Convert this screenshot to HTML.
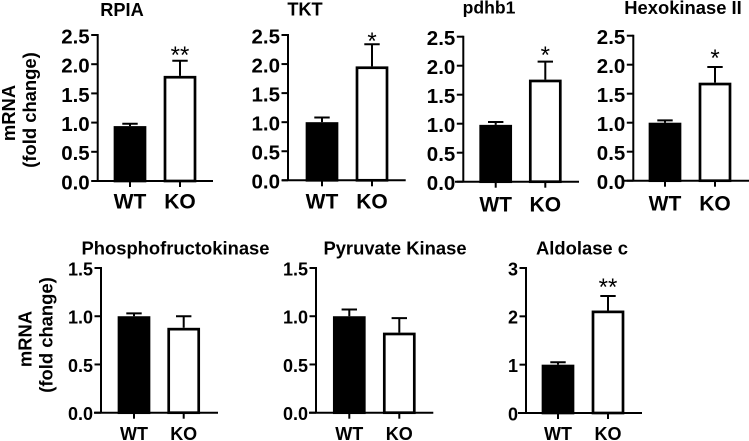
<!DOCTYPE html>
<html>
<head>
<meta charset="utf-8">
<style>
html,body{margin:0;padding:0;background:#fff;}
svg{display:block;}
text{font-family:"Liberation Sans",Arial,sans-serif;font-weight:bold;fill:#000;}
</style>
</head>
<body>
<svg id="figure" width="749" height="441" viewBox="0 0 749 441" xmlns="http://www.w3.org/2000/svg"></svg>
<script>
const categories = ['WT', 'KO'];
const panelTitles = ['RPIA', 'TKT', 'pdhb1', 'Hexokinase II', 'Phosphofructokinase', 'Pyruvate Kinase', 'Aldolase c'];
const tickLabelsA = ['0.0', '0.5', '1.0', '1.5', '2.0', '2.5'];
const tickLabelsB = ['0.0', '0.5', '1.0', '1.5'];
const tickLabelsC = ['0', '1', '2', '3'];
const wtMeans = [0.94, 1.00, 0.98, 1.00, 1.00, 1.00, 1.00];
const wtErrors = [0.04, 0.08, 0.05, 0.04, 0.03, 0.07, 0.05];
const koMeans = [1.80, 1.96, 1.76, 1.69, 0.88, 0.83, 2.12];
const koErrors = [0.26, 0.38, 0.31, 0.27, 0.12, 0.15, 0.30];
const significance = ['**', '*', '*', '*', '', '', '**'];

const layouts = [
  {ax:97.7, top:35, bot:181, wt:130, ko:180, x0:91.7, x1:213, tx:122, ty:16, ticks:tickLabelsA, fs:20.5, cat:21, ts:18.2, catY:208.5, sc:49},
  {ax:288, top:35, bot:180.3, wt:322, ko:372, x0:282, x1:405.7, tx:305, ty:15.5, ticks:tickLabelsA, fs:20.5, cat:21, ts:18.2, catY:208.5, sc:35},
  {ax:463.3, top:36.7, bot:181.7, wt:495.7, ko:545.3, x0:455, x1:579, tx:489, ty:13.5, ticks:tickLabelsA, fs:20.5, cat:21, ts:17.6, catY:211.5, sc:49},
  {ax:633.3, top:35.7, bot:180.7, wt:665, ko:715, x0:624, x1:749, tx:683, ty:14, ticks:tickLabelsA, fs:20.5, cat:21, ts:18.4, catY:210.5, sc:52},
  {ax:101, top:268, bot:412.7, wt:134, ko:183.7, x0:94, x1:218, tx:175.5, ty:254.3, ticks:tickLabelsB, fs:18, cat:18, ts:18.4, catY:440, sc:0},
  {ax:316, top:268, bot:412.7, wt:349.3, ko:399.3, x0:309, x1:433.3, tx:395, ty:254.3, ticks:tickLabelsB, fs:18, cat:18, ts:18.4, catY:440, sc:0},
  {ax:526, top:268, bot:413, wt:558, ko:608, x0:518, x1:642, tx:582, ty:254.3, ticks:tickLabelsC, fs:18, cat:18, ts:18.4, catY:440, sc:281}
];
const barStroke = 2.7;
const svg = document.getElementById('figure');
const NS = 'http://www.w3.org/2000/svg';

function make(tag, attrs, parent) {
  const el = document.createElementNS(NS, tag);
  for (const k in attrs) el.setAttribute(k, attrs[k]);
  (parent || svg).appendChild(el);
  return el;
}
function scaleY(L, maxV, v) { return L.bot - (v / maxV) * (L.bot - L.top); }

panelTitles.forEach(function (title, i) {
  const L = layouts[i];
  const maxV = parseFloat(L.ticks[L.ticks.length - 1]);
  const y = function (v) { return scaleY(L, maxV, v); };
  const g = make('g', {});
  
  

  const t = make('text', {x: L.tx, y: L.ty, 'text-anchor': 'middle', 'font-size': L.ts}, g);
  t.textContent = title;
  
  

  [[wtMeans[i], wtErrors[i], L.wt, '#000'], [koMeans[i], koErrors[i], L.ko, '#fff']].forEach(function (b, j) {
    const mean = b[0], err = b[1], cx = b[2], fill = b[3];
    const errLine = make('path', {d: 'M' + cx + ' ' + y(mean) + 'V' + y(mean + err) + 'M' + (cx - 7.7) + ' ' + y(mean + err) + 'H' + (cx + 7.7), stroke: '#000', 'stroke-width': 2, fill: 'none'}, g);
    
    
    const barTop = y(mean) + barStroke / 2;
    const rect = make('rect', {x: cx - 15, y: barTop, width: 30, height: Math.max(0, L.bot - barTop), fill: fill, stroke: '#000', 'stroke-width': barStroke}, g);
    
    
    const tick = make('line', {x1: cx, x2: cx, y1: L.bot, y2: L.bot + 6, stroke: '#000', 'stroke-width': 2}, g);
    
    
    const lab = make('text', {x: cx, y: L.catY, 'text-anchor': 'middle', 'font-size': L.cat}, g);
    lab.textContent = categories[j];
    
    
  });

  const xAxis = make('line', {x1: L.x0, x2: L.x1, y1: L.bot, y2: L.bot, stroke: '#000', 'stroke-width': 2}, g);
  
  
  const yAxis = make('line', {x1: L.ax, x2: L.ax, y1: L.top - 1, y2: L.bot, stroke: '#000', 'stroke-width': 2}, g);
  
  

  L.ticks.forEach(function (label) {
    const v = parseFloat(label);
    const yt = y(v);
    const tk = make('line', {x1: L.ax - 6.5, x2: L.ax, y1: yt, y2: yt, stroke: '#000', 'stroke-width': 2}, g);
    
    
    const tl = make('text', {x: L.ax - 8, y: yt + L.fs * 0.41, 'text-anchor': 'end', 'font-size': L.fs}, g);
    tl.textContent = label;
    
    
  });

  if (significance[i]) {
    const s = make('text', {x: L.ko, y: L.sc + 14, 'text-anchor': 'middle', 'font-size': 24, style: 'font-weight:normal'}, g);
    s.textContent = significance[i];
    
    
  }
});

[[15, 113, 'mRNA', 'y-title-line-1-top'], [36, 110, '(fold change)', 'y-title-line-2-top'],
 [31.7, 339, 'mRNA', 'y-title-line-1-bottom'], [52.7, 335, '(fold change)', 'y-title-line-2-bottom']].forEach(function (d) {
  const t = make('text', {transform: 'translate(' + d[0] + ' ' + d[1] + ') rotate(-90)', 'text-anchor': 'middle', 'font-size': 18.4, x: 0, y: 0});
  t.textContent = d[2];
  
  
});
</script>
</body>
</html>
